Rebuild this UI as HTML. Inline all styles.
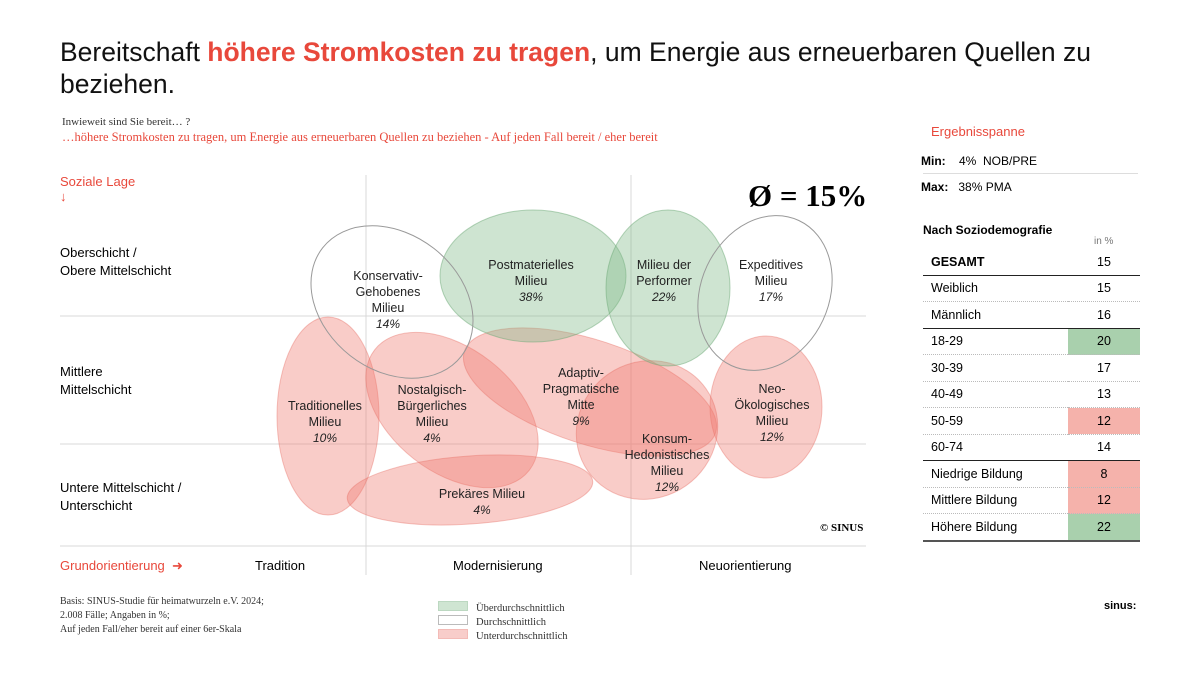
<!DOCTYPE html>
<html><head><meta charset="utf-8">
<style>
body{margin:0;width:1197px;height:673px;background:#fff;font-family:"Liberation Sans",sans-serif;overflow:hidden;position:relative}
.a{position:absolute;white-space:nowrap}
.serif{font-family:"Liberation Serif",serif}
table{border-collapse:collapse}
</style></head><body>
<div class="a" style="left:60px;top:36px;font-size:26.5px;line-height:32px;color:#111">Bereitschaft <b style="color:#e8483b;font-weight:600">höhere Stromkosten zu tragen</b>, um Energie aus erneuerbaren Quellen zu<br>beziehen.</div>
<div class="a serif" style="left:62px;top:116px;font-size:11px;color:#333">Inwieweit sind Sie bereit… ?</div>
<div class="a serif" style="left:62px;top:130px;font-size:12.5px;color:#e8483b">…höhere Stromkosten zu tragen, um Energie aus erneuerbaren Quellen zu beziehen - Auf jeden Fall bereit / eher bereit</div>

<svg class="a" style="left:0;top:0" width="1197" height="673">
<g stroke="#d8d8d8" stroke-width="1">
<line x1="366" y1="175" x2="366" y2="575"/><line x1="631" y1="175" x2="631" y2="575"/>
<line x1="60" y1="316" x2="866" y2="316"/><line x1="60" y1="444" x2="866" y2="444"/>
<line x1="60" y1="546" x2="866" y2="546"/>
</g>
<g id="blobs"></g>
</svg>

<div class="a" style="left:60px;top:174px;font-size:13px;color:#e8483b">Soziale Lage<br>↓</div>
<div class="a" style="left:60px;top:244px;font-size:13px;line-height:18px">Oberschicht /<br>Obere Mittelschicht</div>
<div class="a" style="left:60px;top:363px;font-size:13px;line-height:18px">Mittlere<br>Mittelschicht</div>
<div class="a" style="left:60px;top:479px;font-size:13px;line-height:18px">Untere Mittelschicht /<br>Unterschicht</div>
<div class="a" style="left:60px;top:558px;font-size:13px;color:#e8483b">Grundorientierung &nbsp;➜</div>
<div class="a" style="left:255px;top:558px;font-size:13px">Tradition</div>
<div class="a" style="left:453px;top:558px;font-size:13px">Modernisierung</div>
<div class="a" style="left:699px;top:558px;font-size:13px">Neuorientierung</div>
<div class="a serif" style="left:748px;top:178px;font-size:31px;font-weight:bold">Ø = 15%</div>
<div class="a serif" style="left:820px;top:522px;font-size:11px;font-weight:bold">© SINUS</div>
<div id="labels"></div>

<div class="a serif" style="left:60px;top:595px;font-size:10px;line-height:14px;color:#333">Basis: SINUS-Studie für heimatwurzeln e.V. 2024;<br>2.008 Fälle; Angaben in %;<br>Auf jeden Fall/eher bereit auf einer 6er-Skala</div>
<div class="a serif" style="left:438px;top:601px;font-size:10.5px;line-height:13px;color:#333">
<div><span style="display:inline-block;width:28px;height:8px;background:#cfe5d2;border:1px solid #bcd8c1;margin-right:8px"></span>Überdurchschnittlich</div>
<div><span style="display:inline-block;width:28px;height:8px;background:#fff;border:1px solid #bbb;margin-right:8px"></span>Durchschnittlich</div>
<div><span style="display:inline-block;width:28px;height:8px;background:#f8cdca;border:1px solid #f3bbb7;margin-right:8px"></span>Unterdurchschnittlich</div>
</div>
<div class="a" style="left:1104px;top:600px;font-size:11px;font-weight:bold">sinus:</div>

<div class="a" style="left:931px;top:124px;font-size:13px;color:#e8483b">Ergebnisspanne</div>
<div class="a" style="left:921px;top:154px;font-size:12px"><b>Min:</b>&nbsp;&nbsp;&nbsp; 4%&nbsp; NOB/PRE</div>
<div style="position:absolute;left:923px;top:173px;width:215px;border-top:1px solid #ddd"></div>
<div class="a" style="left:921px;top:180px;font-size:12px"><b>Max:</b>&nbsp;&nbsp; 38% PMA</div>
<div class="a" style="left:923px;top:223px;font-size:12px;font-weight:bold">Nach Soziodemografie</div>
<div class="a" style="left:1094px;top:236px;font-size:10px;color:#777">in %</div>
<table class="a" style="left:923px;top:249px;width:217px;font-size:12.5px" id="tbl"></table>

<script>
const milieuNames=["Konservativ-\nGehobenes\nMilieu","Postmaterielles\nMilieu","Milieu der\nPerformer","Expeditives\nMilieu","Traditionelles\nMilieu","Nostalgisch-\nBürgerliches\nMilieu","Adaptiv-\nPragmatische\nMitte","Neo-\nÖkologisches\nMilieu","Konsum-\nHedonistisches\nMilieu","Prekäres Milieu"];
const milieuValues=[14,38,22,17,10,4,9,12,12,4];
const avgValue=15;
const shapes=[[392,302,88,68,38],[533,276,93,66,0],[668,288,62,78,0],[765,293,64,80,25],[328,416,51,99,0],[452,410,98,62,38],[590,392,132,52,18],[766,407,56,71,0],[647,430,72,68,-35],[470,490,123,34,-4]];
const labelPos=[[388,268],[531,257],[664,257],[771,257],[325,398],[432,382],[581,365],[772,381],[667,431],[482,486]];
const NS="http://www.w3.org/2000/svg";
const g=document.getElementById('blobs');
const order=[4,5,6,7,8,9,1,2,0,3];
order.forEach(i=>{
  const s=shapes[i],v=milieuValues[i];
  const e=document.createElementNS(NS,'ellipse');
  
  
  e.setAttribute('cx',s[0]);e.setAttribute('cy',s[1]);e.setAttribute('rx',s[2]);e.setAttribute('ry',s[3]);
  e.setAttribute('transform',`rotate(${s[4]} ${s[0]} ${s[1]})`);
  const diff=v-avgValue;
  if(diff>=5){e.setAttribute('fill','rgba(125,185,135,0.38)');e.setAttribute('stroke','rgba(110,170,120,0.5)');}
  else if(diff<=-3){e.setAttribute('fill','rgba(238,120,110,0.38)');e.setAttribute('stroke','rgba(230,110,100,0.4)');}
  else{e.setAttribute('fill','none');e.setAttribute('stroke','#999');}
  g.appendChild(e);
});
const L=document.getElementById('labels');
milieuNames.forEach((n,i)=>{
  const d=document.createElement('div');
  
  
  d.className='a';
  d.style.cssText=`left:${labelPos[i][0]}px;top:${labelPos[i][1]}px;transform:translateX(-50%);text-align:center;font-size:12.5px;line-height:16px;color:#222`;
  d.innerHTML=n.replace(/\n/g,'<br>')+'<br><i style="font-size:12px">'+milieuValues[i]+'%</i>';
  L.appendChild(d);
});
const demoLabels=["GESAMT","Weiblich","Männlich","18-29","30-39","40-49","50-59","60-74","Niedrige Bildung","Mittlere Bildung","Höhere Bildung"];
const demoValues=[15,15,16,20,17,13,12,14,8,12,22];
const groupEnd=[0,2,7,10];
const T=document.getElementById('tbl');
demoLabels.forEach((n,i)=>{
  const tr=document.createElement('tr');
  
  
  const v=demoValues[i];
  const bg=i===0?'transparent':(v-avgValue>=5?'#a9d0ad':(v-avgValue<=-3?'#f5b2ab':'transparent'));
  const bd=groupEnd.includes(i)?(i===10?'2px solid #555':'1.5px solid #222'):'1px dotted #bbb';
  tr.innerHTML=`<td style="height:25.5px;padding:0 0 0 8px;border-bottom:${bd};${i===0?'font-weight:bold':''}">${n}</td><td style="width:70px;text-align:center;background:${bg};border-bottom:${bd}">${v}</td>`;
  T.appendChild(tr);
});
</script>
</body></html>
